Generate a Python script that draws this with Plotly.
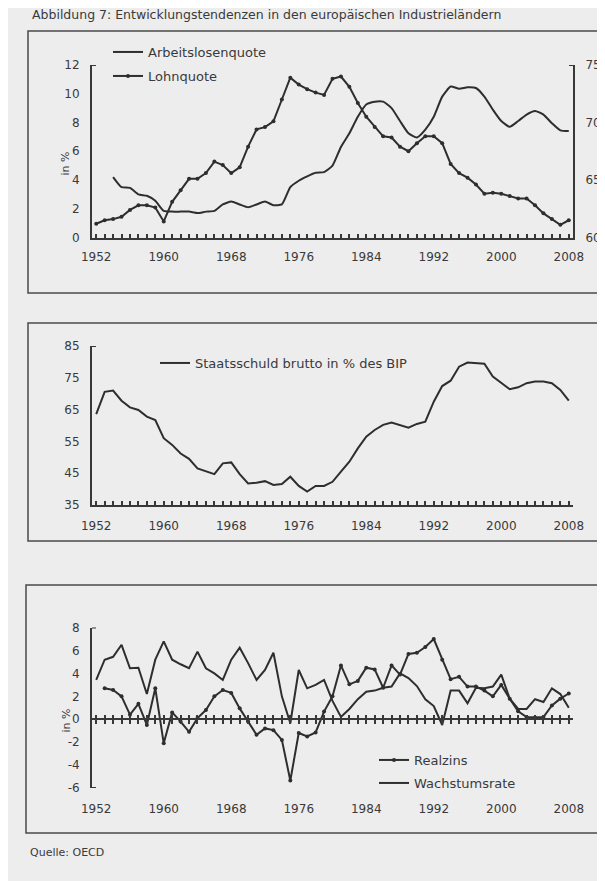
import plotly.graph_objects as go

W, H = 605, 881
OFF = 8  # page margin of the browser around the figure

years = list(range(1952, 2009))

# Chart 1
arbeitslosenquote = [None, None, 4.2, 3.5, 3.45, 3.0, 2.9, 2.55, 1.85, 1.8,
                     1.8, 1.8, 1.7, 1.8, 1.85, 2.3, 2.5, 2.3, 2.1, 2.3,
                     2.5, 2.25, 2.3, 3.5, 3.95, 4.25, 4.5, 4.55, 5.0, 6.3,
                     7.25, 8.4, 9.25, 9.45, 9.45, 9.0, 8.1, 7.25, 6.95, 7.5,
                     8.4, 9.8, 10.5, 10.35, 10.45, 10.4, 9.8, 8.9, 8.1, 7.7,
                     8.1, 8.55, 8.8, 8.55, 7.95, 7.45, 7.4]
lohnquote = [61.2, 61.5, 61.6, 61.8, 62.4, 62.8, 62.8, 62.6, 61.4, 63.1,
             64.1, 65.1, 65.1, 65.6, 66.6, 66.3, 65.6, 66.1, 67.9, 69.4,
             69.6, 70.1, 72.0, 73.9, 73.3, 72.9, 72.6, 72.4, 73.8, 74.0,
             73.1, 71.7, 70.5, 69.6, 68.8, 68.7, 67.9, 67.5, 68.2, 68.8,
             68.8, 68.2, 66.4, 65.6, 65.2, 64.6, 63.8, 63.9, 63.8, 63.6,
             63.4, 63.4, 62.8, 62.1, 61.6, 61.1, 61.5]

# Chart 2
staatsschuld = [63.6, 70.6, 71.0, 67.8, 65.7, 64.9, 62.8, 61.7, 56.0, 53.9,
                51.2, 49.5, 46.5, 45.5, 44.7, 48.1, 48.4, 44.7, 41.8, 42.0,
                42.5, 41.3, 41.6, 43.9, 41.0, 39.2, 41.0, 41.0, 42.3, 45.5,
                48.6, 52.8, 56.5, 58.6, 60.2, 60.9, 60.2, 59.3, 60.5, 61.2,
                67.5, 72.4, 74.1, 78.5, 79.8, 79.6, 79.4, 75.4, 73.3, 71.4,
                72.0, 73.3, 73.8, 73.8, 73.3, 71.2, 67.8]

# Chart 3
realzins = [None, 2.7, 2.55, 2.0, 0.4, 1.35, -0.5, 2.7, -2.1, 0.6,
            -0.2, -1.1, 0.1, 0.8, 2.0, 2.55, 2.3, 0.95, -0.2, -1.35,
            -0.8, -0.95, -1.8, -5.35, -1.2, -1.5, -1.15, 0.67, 2.0, 4.7,
            3.05, 3.35, 4.5, 4.35, 2.75, 4.7, 3.9, 5.7, 5.8, 6.3,
            7.0, 5.2, 3.5, 3.7, 2.85, 2.85, 2.5, 2.0, 3.0, 1.8,
            0.7, 0.2, 0.15, 0.2, 1.2, 1.8, 2.25]
wachstumsrate = [3.43, 5.2, 5.45, 6.5, 4.45, 4.5, 2.2, 5.2, 6.8, 5.2,
                 4.8, 4.45, 5.9, 4.45, 4.0, 3.43, 5.2, 6.25, 4.9, 3.43,
                 4.3, 5.8, 2.0, -0.35, 4.3, 2.7, 3.0, 3.43, 1.6, 0.2,
                 0.9, 1.75, 2.4, 2.5, 2.75, 2.85, 4.0, 3.6, 2.9, 1.75,
                 1.15, -0.5, 2.5, 2.5, 1.4, 2.75, 2.7, 2.85, 3.9, 1.8,
                 0.9, 0.9, 1.75, 1.5, 2.7, 2.2, 1.0]
chart3_ticks = [-6, -4, -2, 0, 2, 4, 6, 8]

title_text = "Abbildung 7: Entwicklungstendenzen in den europäischen Industrieländern"
source_text = "Quelle: OECD"

INK = "#2e2e2e"
AX = "#383838"
TXT = "#3a3a3a"
BG = "#ededed"
FONT = "DejaVu Sans"


def px(x):
    return (x - OFF) / W


def py(y):
    return 1 - (y - OFF) / H


fig = go.Figure()

line_style = dict(color=INK, width=2)

fig.add_trace(go.Scatter(x=years, y=arbeitslosenquote, name="Arbeitslosenquote",
                         mode="lines", line=dict(color=INK, width=2, shape="spline", smoothing=0.5),
                         xaxis="x", yaxis="y", legend="legend"))
fig.add_trace(go.Scatter(x=years, y=lohnquote, name="Lohnquote",
                         mode="lines+markers", line=line_style,
                         marker=dict(size=4, color=INK),
                         xaxis="x", yaxis="y2", legend="legend2"))
fig.add_trace(go.Scatter(x=years, y=staatsschuld, name="Staatsschuld brutto in % des BIP",
                         mode="lines", line=line_style,
                         xaxis="x2", yaxis="y3", legend="legend3"))
fig.add_trace(go.Scatter(x=years, y=realzins, name="Realzins",
                         mode="lines+markers", line=line_style,
                         marker=dict(size=4, color=INK),
                         xaxis="x3", yaxis="y4", legend="legend4"))
fig.add_trace(go.Scatter(x=years, y=wachstumsrate, name="Wachstumsrate",
                         mode="lines", line=line_style,
                         xaxis="x3", yaxis="y4", legend="legend5"))
# empty traces so the zero-line axes of chart 3 get drawn
for ax in ("x4", "x5"):
    fig.add_trace(go.Scatter(x=years, y=[None] * len(years), xaxis=ax, yaxis="y4",
                             showlegend=False, hoverinfo="skip", mode="lines"))

xdom = [px(92), px(573)]
xr = [1951.5, 2008.5]
tickfont = dict(family=FONT, size=12, color=TXT)


def xcommon(standoff):
    return dict(range=xr, domain=xdom, tick0=1952, dtick=8, ticks="inside", ticklen=4,
                tickwidth=2, tickcolor=AX, showline=True, linewidth=2, linecolor=AX,
                showgrid=False, zeroline=False, tickfont=tickfont, ticklabelstandoff=standoff,
                automargin=False,
                minor=dict(tick0=1952, dtick=1, ticks="inside", ticklen=4, tickwidth=2,
                           tickcolor=AX, showgrid=False))


ycommon = dict(showline=True, linewidth=2, linecolor=AX, showgrid=False, zeroline=False,
               ticks="", tickfont=tickfont, ticklabelstandoff=8, automargin=False)

y1dom = [py(237.5), py(65)]
y3dom = [py(505), py(346)]
y4dom = [py(788), py(627.6)]
y4r = [-6, 8]
pos0 = y4dom[0] + (0 - y4r[0]) / (y4r[1] - y4r[0]) * (y4dom[1] - y4dom[0])

fig.update_layout(
    xaxis=dict(**xcommon(7), anchor="y"),
    yaxis=dict(**ycommon, domain=y1dom, range=[0, 12], dtick=2, anchor="x"),
    yaxis2=dict(**ycommon, domain=y1dom, range=[60, 75], dtick=5, anchor="x",
                overlaying="y", side="right"),
    xaxis2=dict(**xcommon(9), anchor="y3"),
    yaxis3=dict(**ycommon, domain=y3dom, range=[35, 85], tick0=35, dtick=10, anchor="x2"),
    xaxis3=dict(range=xr, domain=xdom, tick0=1952, dtick=8, ticks="", showline=False,
                showgrid=False, zeroline=False, tickfont=tickfont, ticklabelstandoff=12,
                automargin=False, anchor="y4"),
    yaxis4=dict(**ycommon, domain=y4dom, range=y4r, tickvals=chart3_ticks,
                ticktext=[str(v) for v in chart3_ticks], anchor="x3"),
    xaxis4=dict(range=xr, domain=xdom, tick0=1952, dtick=1, ticks="outside", ticklen=4,
                tickwidth=2, tickcolor=AX, showline=True, linewidth=2, linecolor=AX,
                showticklabels=False, showgrid=False, zeroline=False, automargin=False,
                overlaying="x3", anchor="free", position=pos0),
    xaxis5=dict(range=xr, domain=xdom, tick0=1952, dtick=1, ticks="inside", ticklen=4,
                tickwidth=2, tickcolor=AX, showline=False, automargin=False,
                showticklabels=False, showgrid=False, zeroline=False,
                overlaying="x3", anchor="free", position=pos0),
)

legfont = dict(family=FONT, size=13, color=TXT)


def leg(x, y):
    return dict(x=px(x), y=py(y), xanchor="left", yanchor="middle", bgcolor="rgba(0,0,0,0)",
                borderwidth=0, font=legfont, itemwidth=30)


fig.update_layout(
    legend=leg(108, 52),
    legend2=leg(108, 76),
    legend3=leg(155, 363),
    legend4=leg(374, 760),
    legend5=leg(374, 783),
)

shapes = []
for (x0, y0, x1, y1) in [(28, 31, 603, 293), (28, 323, 603, 541), (26, 585, 602, 833)]:
    shapes.append(dict(type="rect", xref="paper", yref="paper", x0=px(x0), x1=px(x1),
                       y0=py(y0), y1=py(y1), line=dict(color="#4a4a4a", width=1.5),
                       fillcolor="rgba(0,0,0,0)", layer="below"))
hook = 4 / 481
for xd, yref, yv, d in [("x domain", "y", 12, 1), ("x domain", "y2", 75, -1),
                        ("x2 domain", "y3", 85, 1), ("x3 domain", "y4", 8, 1),
                        ("x3 domain", "y4", -6, 1)]:
    x0 = 0 if d == 1 else 1
    shapes.append(dict(type="line", xref=xd, yref=yref, x0=x0, x1=x0 + d * hook, y0=yv, y1=yv,
                       line=dict(color=AX, width=2)))

annotations = [
    dict(text=title_text, x=px(30), y=py(15), xref="paper", yref="paper", xanchor="left",
         yanchor="middle", showarrow=False, font=dict(family=FONT, size=12.5, color=TXT)),
    dict(text=source_text, x=px(28), y=py(852), xref="paper", yref="paper", xanchor="left",
         yanchor="middle", showarrow=False, font=dict(family=FONT, size=11, color=TXT)),
    dict(text="in %", x=px(57), y=py(150), xref="paper", yref="paper", textangle=-90,
         showarrow=False, font=dict(family=FONT, size=11, color=TXT)),
    dict(text="in %", x=px(57), y=py(735), xref="paper", yref="paper", textangle=-90,
         showarrow=False, font=dict(family=FONT, size=11, color=TXT)),
]

fig.update_layout(
    width=W, height=H, margin=dict(l=0, r=0, t=0, b=0, autoexpand=False),
    paper_bgcolor=BG, plot_bgcolor="rgba(0,0,0,0)",
    shapes=shapes, annotations=annotations, showlegend=True,
    font=dict(family=FONT, color=TXT),
)

fig.write_html("out.html")
